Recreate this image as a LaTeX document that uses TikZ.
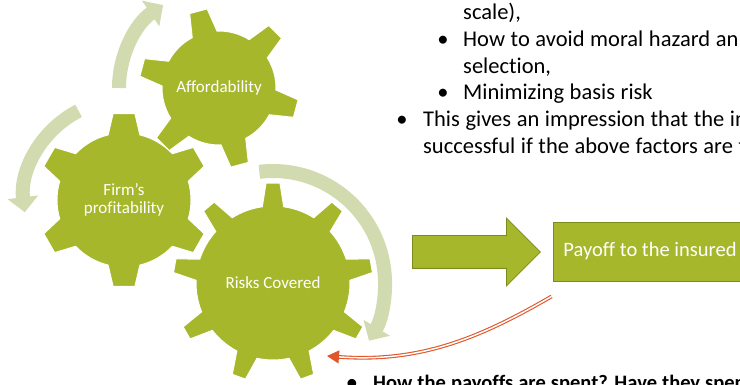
\documentclass[tikz,border=0pt]{standalone}
\usepackage{fontspec}
\setmainfont[Ligatures=NoCommon]{Carlito}
\newfontfamily\bodyfont[Ligatures=NoCommon, WordSpace=1.1]{Carlito}
\usetikzlibrary{positioning,arrows.meta,calc,shapes.arrows}
\definecolor{gearFill}{HTML}{A6B72B}
\definecolor{gearStroke}{HTML}{7C8B1E}
\definecolor{cycleColor}{HTML}{D2DAB0}
\definecolor{backColor}{HTML}{E0562B}

% gear: x, y, teeth, inner r, outer r, offset, base half-angle, tip half-angle
\newcommand{\gear}[8]{%
  \begin{scope}[shift={(#1,#2)}]
    \path[gearbody] (#6-#7:#4)
      \foreach \k [evaluate=\k as \a using {#6+(\k-1)*360/#3}] in {1,...,#3} {
        -- (\a-#7:#4) -- (\a-#8:#5) -- (\a+#8:#5) -- (\a+#7:#4)
        arc[start angle=\a+#7, end angle=\a+360/#3-#7, radius=#4]
      } -- cycle;
  \end{scope}}

\begin{document}
\begin{tikzpicture}[
  x=1pt, y=1pt,
  gearbody/.style={fill=gearFill, draw=white, line width=1pt},
  glbl/.style    ={text=white, align=center, font=\fontsize{17}{18}\selectfont},
  cyc/.style     ={draw=cycleColor, line width=14pt, -{Triangle[length=15pt, width=30pt]}},
  blk/.style     ={single arrow, draw=gearStroke, fill=gearFill, line width=0.8pt,
                   inner xsep=0pt, inner ysep=16pt, minimum height=128pt,
                   single arrow head extend=17.5pt, single arrow tip angle=90,
                   single arrow head indent=0pt},
  box/.style     ={draw=gearStroke, fill=gearFill, line width=0.8pt, minimum width=194pt, minimum height=59pt,
                   text=white, font=\fontsize{20.5}{24}\selectfont},
  back/.style    ={draw=backColor, double=white, double distance=1.5pt, line width=1.1pt,
                   -{Triangle[length=12pt, width=13pt]}},
  txt/.style     ={anchor=base west, inner sep=0pt, font=\bodyfont\fontsize{22.5}{27}\selectfont},
  dot/.style     ={anchor=base, inner sep=0pt, font=\bodyfont\fontsize{22.5}{27}\selectfont},
  bold/.style    ={font=\bodyfont\fontsize{20.5}{25}\selectfont\bfseries},
]
\path[use as bounding box, clip] (0,0) rectangle (740,385);

% ==================== gears ====================
\gear{219}{297}{6}{57}{80}{45}{13}{6.5}
\gear{124}{185}{6}{67}{87}{30}{13.7}{7.2}
\gear{273}{102}{9}{77}{100}{10}{8}{4}

\node[glbl] (aff)  at (219,297) {Affordability};
\node[glbl] (firm) at (124,185) {Firm’s\\profitability};
\node[glbl] (risk) at (273,102) {Risks Covered};

% cycle arrows round the gears
\draw[cyc] ($(aff)+(180:100)$) arc[start angle=180, end angle=124, radius=100];
\draw[cyc] ($(firm)+(117:100)$) arc[start angle=117, end angle=187, radius=100];
\draw[cyc] ($(risk)+(97:112)$) arc[start angle=97, end angle=-31, radius=112];

% ==================== payoff ====================
\node[blk, anchor=tail] (blk) at (412,133) {};
\node[box] (pay) at (650,133.5) {Payoff to the insured};

\coordinate (from) at ($(pay.south west)+(-1,-15)$);
\coordinate (hit)  at ($(risk)+(54,-73)$);
\draw[back] (from) .. controls (480,47) and (420,22) .. (hit);

% ==================== text ====================
\node[txt] (t1) at (463,365) {scale),};
\node[dot] (b2) at (443,338) {•};
\node[txt] (t2) at (463,338) {How to avoid moral hazard an};
\node[txt] (t3) at (463,311.5) {selection,};
\node[dot] (b4) at (443,285) {•};
\node[txt] (t4) at (463,285) {Minimizing basis risk};
\node[dot] (b5) at (402,258) {•};
\node[txt] (t5) at (423,258) {This gives an impression that the in};
\node[txt] (t6) at (423,231) {successful if the above factors are f};
\node[dot, bold] (b7) at (352,-5) {•};
\node[txt, bold] (t7) at (373,-5) {How the payoffs are spent? Have they spen};

\end{tikzpicture}
\end{document}
